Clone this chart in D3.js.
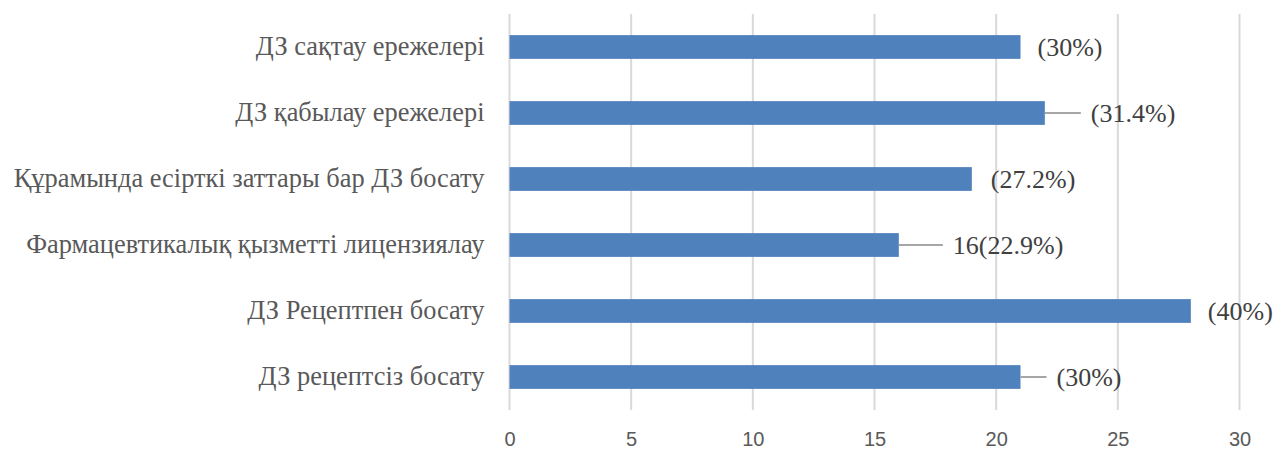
<!DOCTYPE html>
<html>
<head>
<meta charset="utf-8">
<script src="https://cdn.jsdelivr.net/npm/d3@7"></script>
<style>
  html, body { margin: 0; padding: 0; background: #fff; }
  svg { display: block; }
</style>
</head>
<body>
<svg id="chart" width="1275" height="450"></svg>
<script>
// Categories, top to bottom
const categories = [
  "ДЗ сақтау ережелері",
  "ДЗ қабылау ережелері",
  "Құрамында есірткі заттары бар ДЗ босату",
  "Фармацевтикалық қызметті лицензиялау",
  "ДЗ Рецептпен босату",
  "ДЗ рецептсіз босату"
];
const values = [21, 22, 19, 16, 28, 21];
const labels = ["(30%)", "(31.4%)", "(27.2%)", "16(22.9%)", "(40%)", "(30%)"];
const tickValues = [0, 5, 10, 15, 20, 25, 30];

// Horizontal distance (px) from bar end to each label; far ones get a leader line
const labelGaps = [17, 46, 19, 54, 17, 36];

const svg = d3.select("#chart");
const plotLeft = 509.5, plotRight = 1239.5, plotTop = 14, plotBottom = 410;

const x = d3.scaleLinear().domain([0, 30]).range([plotLeft, plotRight]);
const y = d3.scaleBand().domain(categories).range([plotTop, plotBottom]).paddingInner(0.64).paddingOuter(0.32);

// vertical gridlines
svg.append("g")
  .selectAll("line")
  .data(tickValues)
  .join("line")
  .attr("x1", d => x(d)).attr("x2", d => x(d))
  .attr("y1", plotTop).attr("y2", plotBottom)
  .attr("stroke", "#d9d9d9")
  .attr("stroke-width", 2);

// bars
svg.append("g")
  .selectAll("rect")
  .data(values)
  .join("rect")
  .attr("x", x(0))
  .attr("y", (d, i) => y(categories[i]))
  .attr("width", d => x(d) - x(0))
  .attr("height", y.bandwidth())
  .attr("fill", "#4f81bd");

// leader lines for labels moved away from their bars
svg.append("g")
  .selectAll("line")
  .data(values.map((v, i) => ({ v, i })).filter(d => labelGaps[d.i] > 25))
  .join("line")
  .attr("x1", d => x(d.v))
  .attr("x2", d => x(d.v) + labelGaps[d.i] - 10)
  .attr("y1", d => y(categories[d.i]) + y.bandwidth() / 2)
  .attr("y2", d => y(categories[d.i]) + y.bandwidth() / 2)
  .attr("stroke", "#a6a6a6")
  .attr("stroke-width", 2);

// data labels
svg.append("g")
  .selectAll("text")
  .data(values)
  .join("text")
  .attr("x", (d, i) => x(d) + labelGaps[i])
  .attr("y", (d, i) => y(categories[i]) + y.bandwidth() / 2)
  .attr("dy", "0.35em")
  .attr("font-family", "'Liberation Serif', 'Times New Roman', serif")
  .attr("font-size", 26)
  .attr("fill", "#404040")
  .text((d, i) => labels[i]);

// category axis labels
const yAxis = d3.axisLeft(y).tickSize(0).tickPadding(0);
const gy = svg.append("g").attr("transform", `translate(${plotLeft - 25},0)`).call(yAxis);
gy.select(".domain").remove();
gy.selectAll("text")
  .attr("font-family", "'Liberation Serif', 'Times New Roman', serif")
  .attr("font-size", 26.4)
  .attr("fill", "#595959");

// value axis labels
const xAxis = d3.axisBottom(x).tickValues(tickValues).tickSize(0).tickPadding(0);
const gx = svg.append("g").attr("transform", `translate(0,${plotBottom + 22})`).call(xAxis);
gx.select(".domain").remove();
gx.selectAll("text")
  .attr("font-family", "'Liberation Sans', Arial, sans-serif")
  .attr("font-size", 20)
  .attr("fill", "#595959");
</script>
</body>
</html>
